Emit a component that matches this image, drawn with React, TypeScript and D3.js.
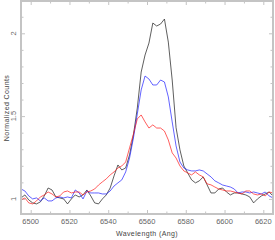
import { useEffect, useRef } from "react";
import * as d3 from "d3";

// wavelength grid (Ang), 2 Ang steps
const WAVELENGTH = d3.range(6495, 6626, 2);

const BLACK = [
  1.006, 1.024, 0.994, 0.976, 0.97, 0.982, 1.018, 1.066, 1.054, 1.012,
  1.006, 1.0, 0.97, 1.0, 1.024, 1.012, 1.024, 1.054, 1.018, 0.976,
  0.97, 1.0, 1.024, 1.066, 1.139, 1.205, 1.175, 1.187, 1.266, 1.386,
  1.549, 1.766, 1.869, 1.941, 2.062, 2.044, 2.056, 2.086, 1.947, 1.718,
  1.43, 1.296, 1.199, 1.157, 1.115, 1.097, 1.109, 1.133, 1.085, 1.036,
  1.036, 1.06, 1.066, 1.042, 1.024, 1.036, 1.036, 1.03, 1.024, 1.012,
  0.976, 1.0, 1.018, 1.03, 1.042, 1.018,
];

const BLUE = [
  1.06, 1.048, 1.018, 1.0, 1.006, 0.988, 1.006, 0.988, 0.988, 1.006,
  1.012, 1.006, 1.012, 1.006, 1.054, 1.036, 1.0, 1.048, 1.036, 1.036,
  1.036, 1.03, 1.03, 1.048, 1.078, 1.097, 1.115, 1.163, 1.247, 1.368,
  1.513, 1.658, 1.742, 1.724, 1.688, 1.688, 1.718, 1.706, 1.616, 1.465,
  1.32, 1.223, 1.187, 1.175, 1.169, 1.169, 1.175, 1.169, 1.151, 1.133,
  1.109, 1.097, 1.084, 1.078, 1.072, 1.06, 1.036, 1.042, 1.042, 1.036,
  1.042, 1.036, 1.03, 1.042, 1.018, 1.006,
];

const RED = [
  0.994, 1.006, 0.976, 0.97, 0.988, 1.012, 1.024, 1.042, 1.03, 1.012,
  1.018, 1.042, 1.048, 1.036, 1.042, 1.042, 1.024, 1.042, 1.048, 1.06,
  1.084, 1.103, 1.121, 1.145, 1.163, 1.187, 1.199, 1.223, 1.308, 1.392,
  1.483, 1.507, 1.465, 1.428, 1.447, 1.428, 1.428, 1.41, 1.356, 1.278,
  1.247, 1.199, 1.169, 1.157, 1.145, 1.163, 1.145, 1.133, 1.091, 1.085,
  1.072, 1.06, 1.054, 1.048, 1.048, 1.042, 1.036, 1.03, 1.048, 1.048,
  1.03, 1.024, 1.03, 1.018, 1.042, 1.036,
];

const SERIES = [
  { name: "black", values: BLACK, color: "#1a1a1a" },
  { name: "blue", values: BLUE, color: "#2020ff" },
  { name: "red", values: RED, color: "#ff1a1a" },
];

const X_MAJOR = [6500, 6520, 6540, 6560, 6580, 6600, 6620];
const X_MINOR = [6510, 6530, 6550, 6570, 6590, 6610];
const Y_MAJOR = [1, 1.5, 2];
const Y_MINOR = [1.1, 1.2, 1.3, 1.4, 1.6, 1.7, 1.8, 1.9, 2.1];

const W = 275;
const H = 240;
const FRAME = "#c4c4c4";
const TEXT = "#666";

export default function App() {
  const ref = useRef<SVGSVGElement | null>(null);

  useEffect(() => {
    const svg = d3.select(ref.current);
    svg.selectAll("*").remove();

    const x = d3.scaleLinear().domain([6495, 6625]).range([21, 273]);
    const y = d3.scaleLinear().domain([0.909, 2.195]).range([214, 1]);

    const font = "'Liberation Sans', Arial, sans-serif";

    // ticks, all drawn inward
    const tick = (sel: d3.Selection<SVGGElement, unknown, null, undefined>) => {
      sel.select(".domain").remove();
      sel.selectAll(".tick line").attr("stroke", FRAME).attr("stroke-width", 1);
      sel.selectAll(".tick text").remove();
    };
    const ax = (g: any, t: string) => svg.append("g").attr("transform", t).call(g).call(tick);

    ax(d3.axisBottom(x).tickValues(X_MAJOR).tickSize(-4), `translate(0,${y.range()[0]})`);
    ax(d3.axisBottom(x).tickValues(X_MINOR).tickSize(-2.5), `translate(0,${y.range()[0]})`);
    ax(d3.axisTop(x).tickValues(X_MAJOR).tickSize(-4), `translate(0,${y.range()[1]})`);
    ax(d3.axisTop(x).tickValues(X_MINOR).tickSize(-2.5), `translate(0,${y.range()[1]})`);
    ax(d3.axisLeft(y).tickValues(Y_MAJOR).tickSize(-4), `translate(${x.range()[0]},0)`);
    ax(d3.axisLeft(y).tickValues(Y_MINOR).tickSize(-2.5), `translate(${x.range()[0]},0)`);
    ax(d3.axisRight(y).tickValues(Y_MAJOR).tickSize(-4), `translate(${x.range()[1]},0)`);
    ax(d3.axisRight(y).tickValues(Y_MINOR).tickSize(-2.5), `translate(${x.range()[1]},0)`);

    // lines
    const clipId = "plotclip";
    svg.append("clipPath").attr("id", clipId)
      .append("rect")
      .attr("x", x.range()[0]).attr("y", y.range()[1])
      .attr("width", x.range()[1] - x.range()[0])
      .attr("height", y.range()[0] - y.range()[1]);

    const line = d3.line<number>()
      .x((_, i) => x(WAVELENGTH[i]))
      .y((d) => y(d));

    SERIES.forEach((s) => {
      svg.append("path")
        .attr("clip-path", `url(#${clipId})`)
        .attr("d", line(s.values))
        .attr("fill", "none")
        .attr("stroke", s.color)
        .attr("stroke-width", 0.7)
        .attr("stroke-linejoin", "round");
    });

    // frame
    svg.append("rect")
      .attr("x", x.range()[0]).attr("y", y.range()[1])
      .attr("width", x.range()[1] - x.range()[0])
      .attr("height", y.range()[0] - y.range()[1])
      .attr("fill", "none")
      .attr("stroke", FRAME)
      .attr("stroke-width", 2);

    // tick labels
    svg.append("g").selectAll("text").data(X_MAJOR).join("text")
      .attr("x", (d) => x(d)).attr("y", 224)
      .attr("text-anchor", "middle")
      .attr("font-family", font).attr("font-size", 7.5)
      .attr("fill", TEXT)
      .text((d) => d);

    svg.append("g").selectAll("text").data(Y_MAJOR).join("text")
      .attr("transform", (d) => `translate(16,${y(d)}) rotate(-90)`)
      .attr("text-anchor", "middle")
      .attr("font-family", font).attr("font-size", 7.5)
      .attr("fill", TEXT)
      .text((d) => d);

    svg.append("text")
      .attr("x", 147).attr("y", 236)
      .attr("text-anchor", "middle")
      .attr("font-family", font).attr("font-size", 7)
      .attr("letter-spacing", 0.4)
      .attr("fill", "#444")
      .text("Wavelength (Ang)");

    svg.append("text")
      .attr("transform", "translate(9,108) rotate(-90)")
      .attr("text-anchor", "middle")
      .attr("font-family", font).attr("font-size", 7)
      .attr("letter-spacing", 0.4)
      .attr("fill", "#444")
      .text("Normalized Counts");
  }, []);

  return (
    <div style={{ position: "fixed", left: 0, top: 0 }}>
      <svg ref={ref} width={W} height={H} style={{ display: "block", background: "#fff" }} />
    </div>
  );
}
